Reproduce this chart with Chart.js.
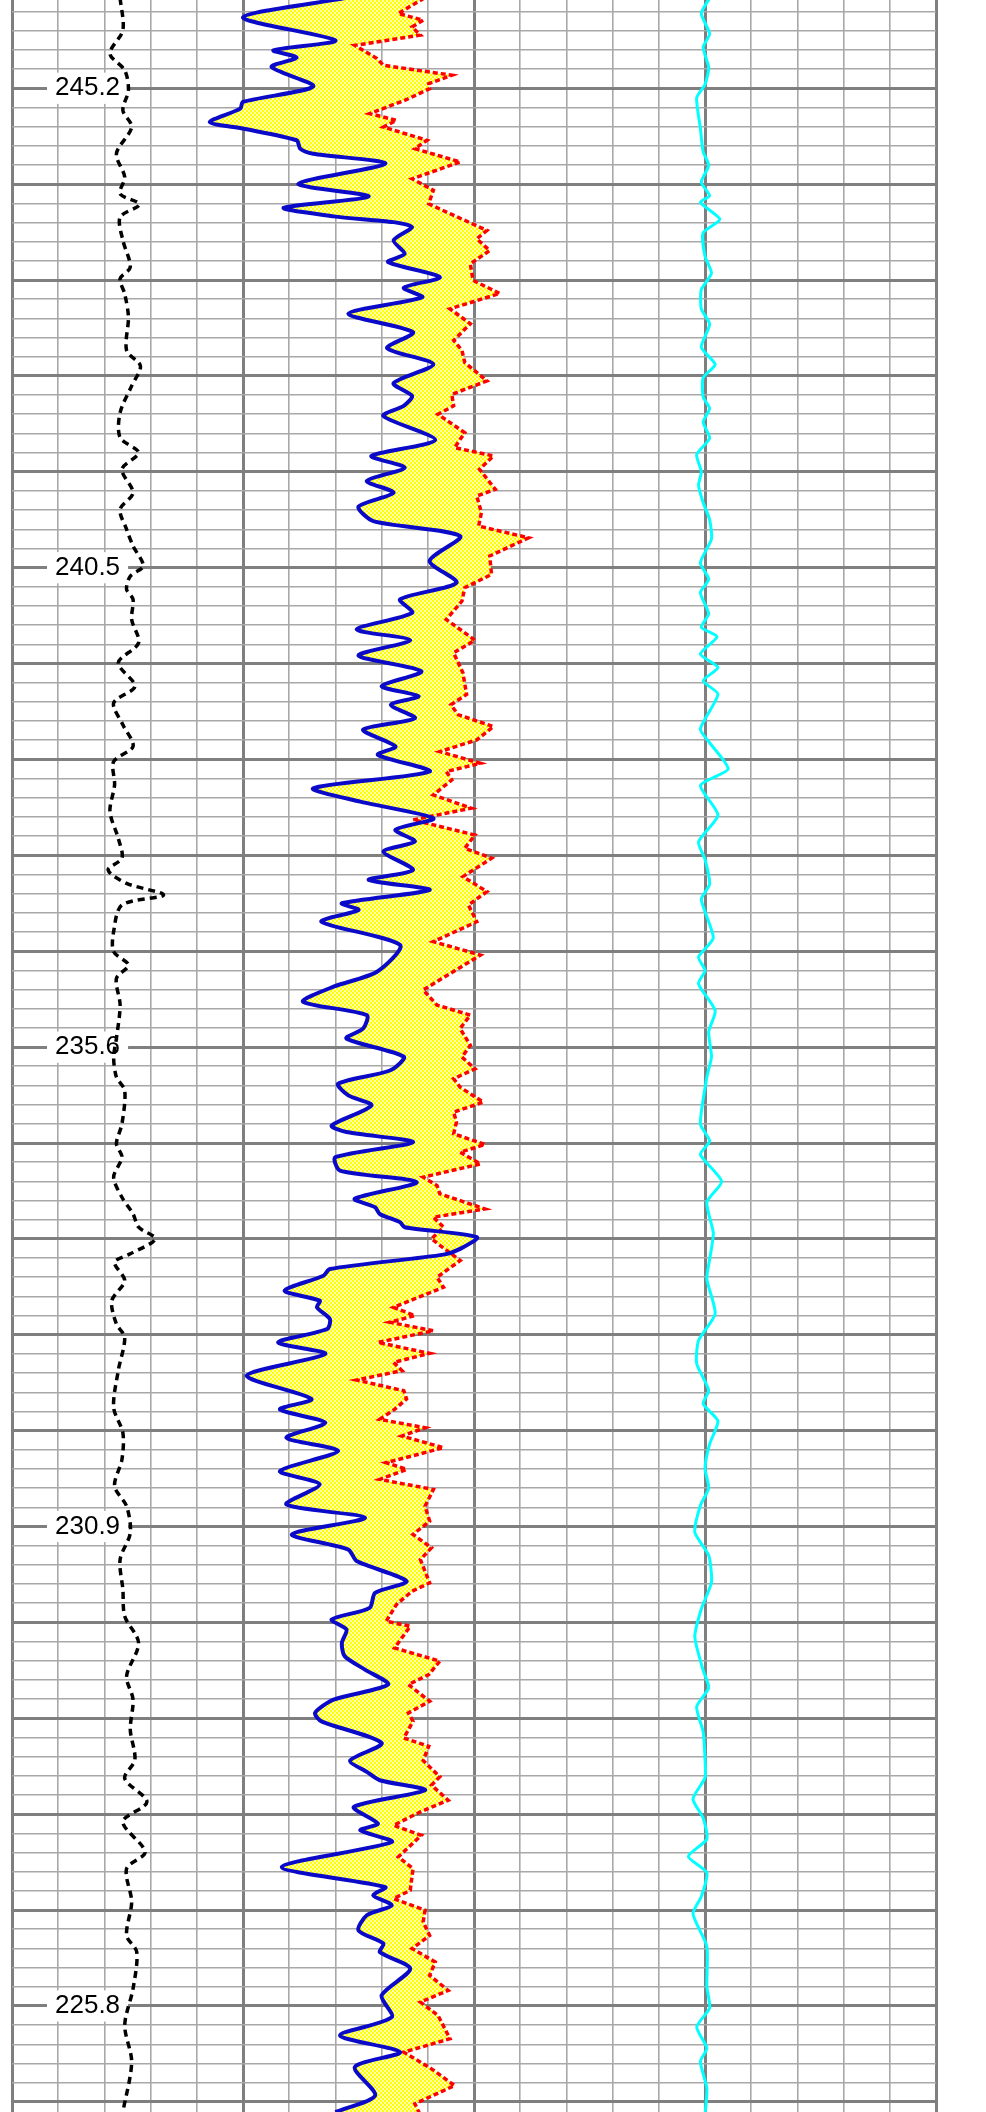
<!DOCTYPE html>
<html>
<head>
<meta charset="utf-8">
<script src="https://cdn.jsdelivr.net/npm/chart.js@4.4.1/dist/chart.umd.min.js"></script>
<style>
  html, body { margin: 0; padding: 0; background: #ffffff; overflow: hidden; }
  #wrap { width: 986px; height: 2112px; position: relative; }
  canvas { display: block; }
</style>
</head>
<body>
<div id="wrap"><canvas id="log" width="986" height="2112"></canvas></div>
<script>
// ---------- depth axis (rows of the depth grid, 0 = first labelled line) ----------
const depthLabels = ['245.2', '240.5', '235.6', '230.9', '225.8'];
const labelRows = [0, 25, 50, 75, 100];
const rowMin = -4.604;
const rowMax = 105.53;

// ---------- blue curve ----------
const blueDepth = [-4.7,-3.69,-2.5,-1.98,-1.6,-1.11,-0.1,0.71,1.06,1.76,2.1,2.71,3.15,3.41,3.93,4.98,5.64,6.23,6.68,6.98,7.24,7.93,8.63,9.06,9.85,10.4,10.9,11.76,12.72,13.55,
  14.39,15.38,16.04,16.56,17.09,18.34,19.17,19.78,20.48,21.09,21.82,22.57,23.35,24.65,25.78,26.65,27.35,28.22,28.78,29.58,30.4,31.18,31.7,32.15,
  32.85,33.45,34.32,34.76,35.63,36.5,37.2,38.07,38.67,39.28,39.8,40.76,41.28,41.8,42.5,42.85,43.46,44.68,46.07,46.85,47.63,48.33,49.03,49.55,50.5,
  51.22,51.91,52.52,53.04,54.09,54.43,54.96,55.74,56.44,57.04,57.91,58.35,58.7,59.13,59.39,59.91,60.52,60.82,61.57,61.92,62.7,63.22,63.57,64.18,64.7,65.4,66.0,67.13,68.35,68.89,
  69.59,70.37,71.06,72.11,72.8,73.85,74.54,75.41,76.2,76.8,77.85,78.46,79.24,79.85,80.37,81.07,81.76,82.46,83.24,84.03,84.72,85.16,86.29,87.2,
  87.79,88.23,88.75,89.62,90.49,90.84,91.45,92.75,93.8,94.23,94.75,95.27,96.06,96.75,97.19,98.06,99.45,100.58,101.54,102.41,103.19,104.67,105.54,105.7];
const blueValues = [36.0,25.0,35.0,28.3,30.8,28.1,32.6,25.0,24.7,21.4,25.0,30.8,31.2,32.6,40.4,31.0,38.6,29.4,34.8,41.3,43.3,41.3,42.5,40.7,46.3,42.4,44.4,36.4,43.4,40.6,
  45.6,41.3,43.3,42.4,40.2,45.8,38.9,42.5,38.4,41.3,37.5,39.1,48.5,45.2,48.1,42.0,43.3,37.3,43.1,37.5,44.3,40.0,44.0,41.0,
  43.6,38.0,41.5,39.6,45.2,32.6,37.7,45.6,41.5,43.6,40.2,43.4,38.6,45.2,35.7,37.5,33.5,42.0,39.5,34.8,31.5,38.4,38.0,36.2,42.4,
  40.9,35.3,36.4,38.9,34.6,36.2,43.4,35.0,35.5,43.8,37.1,39.3,39.8,42.0,42.5,50.3,48.5,46.7,34.4,33.7,29.5,33.3,33.0,34.4,34.1,28.8,33.9,25.4,32.4,29.0,
  33.9,29.7,35.3,29.0,33.3,29.7,38.2,30.3,36.4,37.3,42.7,39.3,38.7,34.6,36.2,35.7,36.0,38.2,40.7,34.8,32.8,33.5,40.0,36.6,
  38.4,39.8,44.7,37.0,39.6,37.7,41.1,29.2,40.4,39.1,41.1,38.4,37.5,40.2,39.8,43.1,40.0,41.1,35.5,42.0,37.1,39.3,35.0,34.5];

// ---------- red dotted curve ----------
const redDepth = [-4.7,-3.9,-3.55,-3.2,-2.77,-2.24,-1.55,-1.2,-0.68,-0.24,0.02,0.63,1.32,1.67,2.02,2.71,3.15,3.84,4.72,5.32,6.02,6.54,7.41,7.85,8.46,9.15,10.02,10.7,11.5,12.28,13.15,13.67,
  14.3,15.26,15.96,16.56,17.0,17.96,18.74,19.17,19.87,20.91,21.26,22.13,22.83,23.44,24.39,25.35,26.04,26.74,27.7,28.78,29.44,30.48,31.61,32.15,
  32.67,33.28,33.98,34.59,35.2,35.63,36.06,36.85,37.54,38.15,38.94,39.63,40.15,41.11,41.89,42.59,43.46,44.5,45.2,47.02,47.81,48.33,49.03,49.9,50.52,
  51.13,51.65,52.09,52.87,53.39,53.91,54.52,55.08,55.48,56.09,56.78,57.22,57.65,58.44,58.87,59.39,60.0,61.13,62.0,62.52,63.57,64.0,64.35,64.79,65.4,65.97,66.44,66.87,67.36,67.92,68.35,68.89,
  69.41,69.85,70.28,70.89,71.67,72.02,72.54,73.07,73.94,74.72,75.41,76.11,76.72,77.94,78.37,79.07,79.94,80.2,81.33,82.02,82.72,83.24,84.11,84.72,85.16,86.03,86.46,87.2,
  88.05,88.49,89.27,89.88,90.58,91.1,92.23,92.84,93.97,94.4,95.01,95.62,96.32,97.01,97.71,98.41,99.19,99.8,100.49,101.71,102.41,103.28,104.15,105.1,105.7];
const redValues = [44.6,41.8,44.5,43.3,44.2,37.1,39.5,40.2,47.6,45.1,45.2,42.5,38.7,41.6,40.2,44.9,43.6,48.5,43.3,45.6,45.1,47.4,51.4,50.3,51.7,49.6,49.9,52.8,47.4,49.6,47.8,48.7,
  49.0,51.4,47.6,47.8,46.1,49.0,47.9,52.1,50.6,52.3,50.3,50.8,50.5,55.9,51.7,51.9,49.0,48.7,47.0,50.1,47.8,48.8,49.2,47.5,
  48.3,52.1,50.3,46.3,50.7,47.0,47.6,45.6,49.7,43.4,50.1,49.0,51.9,48.8,51.4,49.4,50.3,45.6,50.7,44.5,46.0,49.6,48.5,49.6,48.7,
  50.1,47.8,48.5,51.0,47.8,48.1,47.8,51.2,48.5,50.7,44.5,46.0,46.3,51.2,45.6,46.7,45.4,48.5,46.0,46.7,41.3,43.6,40.9,45.6,39.6,45.2,41.3,42.2,37.3,42.4,42.7,41.4,
  39.8,44.7,42.2,46.7,40.5,42.7,39.8,45.6,44.7,45.2,43.4,45.4,44.2,45.2,43.3,41.6,40.5,43.1,41.4,46.3,45.1,42.9,45.2,42.9,43.4,42.4,45.1,44.5,
  46.3,45.4,47.2,44.2,41.3,44.3,41.8,43.4,43.1,41.3,44.7,44.5,45.2,43.3,45.8,45.2,47.2,44.2,46.1,47.4,42.4,45.4,47.9,43.6,44.2];

// ---------- black dashed curve ----------
const blackDepth = [-4.7,-3.03,-1.81,-0.94,0.1,1.15,2.02,3.41,4.63,5.5,6.05,6.72,7.93,9.32,9.93,10.72,11.93,13.67,
  14.48,15.52,16.91,18.22,19.0,19.87,21.09,21.96,23.0,23.87,24.91,25.44,26.13,26.65,27.7,28.92,29.96,31.18,32.05,
  33.19,34.32,35.11,36.33,37.72,39.11,40.15,40.76,41.46,42.07,42.59,43.98,45.02,45.72,46.42,47.81,49.55,
  50.52,51.56,52.26,54.0,55.04,55.74,56.78,57.83,58.7,59.39,60.0,60.78,61.22,62.18,63.22,64.44,65.13,66.87,68.79,
  70.11,71.5,72.89,73.94,75.33,76.72,78.28,79.68,81.07,82.81,84.02,85.59,87.16,
  88.14,89.36,90.4,91.97,92.84,94.58,96.32,97.19,99.1,101.01,102.93,105.54,105.7];
const blackValues = [11.7,12.0,10.6,12.2,12.6,12.0,12.95,11.3,12.2,11.7,13.8,11.7,12.0,12.8,11.7,12.2,12.6,12.4,
  13.9,12.95,11.7,11.7,13.7,11.9,13.1,11.7,12.4,13.1,14.2,12.8,12.4,13.1,12.95,13.7,11.5,13.3,11.0,
  12.0,13.1,11.0,11.1,10.6,11.5,11.9,10.4,12.4,16.4,11.9,11.0,11.0,12.6,11.3,11.7,11.3,
  11.0,11.3,12.2,11.9,11.3,11.9,11.0,11.9,13.1,13.7,15.5,12.8,11.1,12.2,10.8,11.3,12.2,11.5,11.0,
  12.0,11.9,11.1,12.4,12.8,11.7,12.0,12.2,13.7,12.4,13.1,12.8,13.3,
  12.2,14.6,12.0,14.4,12.4,12.95,12.4,13.5,13.1,12.2,12.95,12.0,12.0];

// ---------- cyan curve ----------
const cyanDepth = [-4.7,-3.9,-2.84,-2.14,-1.08,-0.2,0.5,2.08,3.31,4.02,4.9,5.6,5.95,6.83,7.53,8.76,9.64,10.5,11.5,12.3,13.5,14.4,15.09,16.1,16.7,17.4,18.25,19.1,20.0,20.7,21.6,22.5,23.5,24.75,25.6,26.3,27.4,28.1,28.6,29.5,30.2,30.9,31.6,33.4,34.07,35.5,36.35,37.9,39.3,40.2,41.5,42.3,44.3,45.3,46.0,46.7,48.1,49.2,50.5,
  51.57,54.0,54.9,55.6,57.0,58.08,59.7,61.07,62.1,63.9,65.3,66.5,67.9,68.6,69.5,70.7,71.96,73.0,73.9,75.3,76.5,77.9,79.3,80.75,82.5,83.4,84.4,85.7,87.1,88.1,89.2,90.2,91.3,92.2,93.05,94.3,95.2,96.9,99.0,100.1,101.1,102.2,102.9,104.3,105.7];
const cyanValues = [75.5,74.6,75.5,74.8,75.4,75.0,74.1,74.5,74.8,75.4,74.6,75.5,74.5,76.6,74.8,75.0,75.7,74.6,74.6,75.5,74.6,76.1,74.8,74.8,75.5,74.8,75.5,74.1,74.6,74.3,74.8,75.5,75.7,74.5,75.4,74.5,75.4,74.6,76.3,74.5,76.4,74.8,76.4,74.5,75.4,77.5,74.5,76.4,74.3,75.0,75.5,74.6,75.9,74.3,75.0,74.3,76.1,75.4,75.7,
  75.2,74.5,75.5,74.5,76.8,75.2,75.9,75.5,75.2,76.1,74.3,74.1,75.4,74.8,76.4,75.5,75.0,75.4,74.5,73.9,75.4,75.7,74.6,73.9,74.8,75.4,74.1,74.8,75.0,75.0,73.7,74.8,75.2,73.2,75.2,74.6,73.7,75.2,75.2,75.5,74.1,75.2,74.5,75.2,75.0];

// ---------- styling ----------
const MAJOR_GRID = '#7f7f7f';
const MINOR_GRID = '#a8a8a8';

function checkerPattern() {
  const c = document.createElement('canvas');
  c.width = 4; c.height = 4;
  const g = c.getContext('2d');
  g.fillStyle = '#ffffb0';
  g.fillRect(0, 0, 4, 4);
  g.fillStyle = '#ffff00';
  g.fillRect(0, 0, 2, 2);
  g.fillRect(2, 2, 2, 2);
  return g.createPattern(c, 'repeat');
}

function pts(depths, values) {
  return depths.map((d, i) => ({ x: values[i], y: d }));
}

function rowLabel(v) {
  const r = Math.round(v);
  if (Math.abs(v - r) > 1e-6) return '';
  const k = labelRows.indexOf(r);
  return k >= 0 ? depthLabels[k] : '';
}
function isLabelled(v) { return rowLabel(v) !== ''; }

const fillPattern = checkerPattern();

new Chart(document.getElementById('log'), {
  type: 'line',
  data: {
    datasets: [
      {
        label: 'blue', data: pts(blueDepth, blueValues),
        borderColor: '#0a0ac8', borderWidth: 4, tension: 0.25,
        pointRadius: 0, fill: '+1', backgroundColor: fillPattern
      },
      {
        label: 'red', data: pts(redDepth, redValues),
        borderColor: '#ff0000', borderWidth: 3.5, borderDash: [5, 3], tension: 0,
        pointRadius: 0, fill: false
      },
      {
        label: 'black', data: pts(blackDepth, blackValues),
        borderColor: '#000000', borderWidth: 3.5, borderDash: [7, 5], tension: 0.3,
        pointRadius: 0, fill: false
      },
      {
        label: 'cyan', data: pts(cyanDepth, cyanValues),
        borderColor: '#00ffff', borderWidth: 3, tension: 0.2,
        pointRadius: 0, fill: false
      }
    ]
  },
  options: {
    responsive: false,
    devicePixelRatio: 1,
    animation: false,
    indexAxis: 'y',
    layout: { padding: { left: 12, right: 50, top: 0, bottom: 0 } },
    plugins: {
      legend: { display: false },
      tooltip: { enabled: false },
      filler: { drawTime: 'beforeDatasetsDraw' }
    },
    scales: {
      x: {
        type: 'linear', position: 'bottom', min: 0, max: 100,
        ticks: { display: false, stepSize: 5 },
        border: { display: false },
        grid: {
          z: -1, drawTicks: false,
          color: (c) => (c.tick && Math.round(c.tick.value) % 25 === 0) ? MAJOR_GRID : MINOR_GRID,
          lineWidth: (c) => (c.tick && Math.round(c.tick.value) % 25 === 0) ? 3 : 1.6
        }
      },
      y: {
        type: 'linear', position: 'left', reverse: true, min: rowMin, max: rowMax,
        border: { display: false },
        grid: {
          z: -1, drawTicks: false,
          color: (c) => (c.tick && Math.round(c.tick.value) % 5 === 0) ? MAJOR_GRID : MINOR_GRID,
          lineWidth: (c) => (c.tick && Math.round(c.tick.value) % 5 === 0) ? 3 : 1.6
        },
        ticks: {
          stepSize: 1, includeBounds: false, autoSkip: false,
          mirror: true, padding: 43, crossAlign: 'near',
          color: '#000000',
          font: { family: "'Liberation Sans', Arial, sans-serif", size: 26 },
          showLabelBackdrop: (c) => isLabelled(c.tick.value),
          backdropColor: (c) => isLabelled(c.tick.value) ? '#ffffff' : 'rgba(0,0,0,0)',
          backdropPadding: { left: 8, right: 8, top: 0, bottom: 0 },
          callback: (v) => rowLabel(v)
        },
        afterFit: (s) => { s.width = 0; s.paddingTop = 0; s.paddingBottom = 0; }
      }
    }
  }
});
</script>
</body>
</html>
